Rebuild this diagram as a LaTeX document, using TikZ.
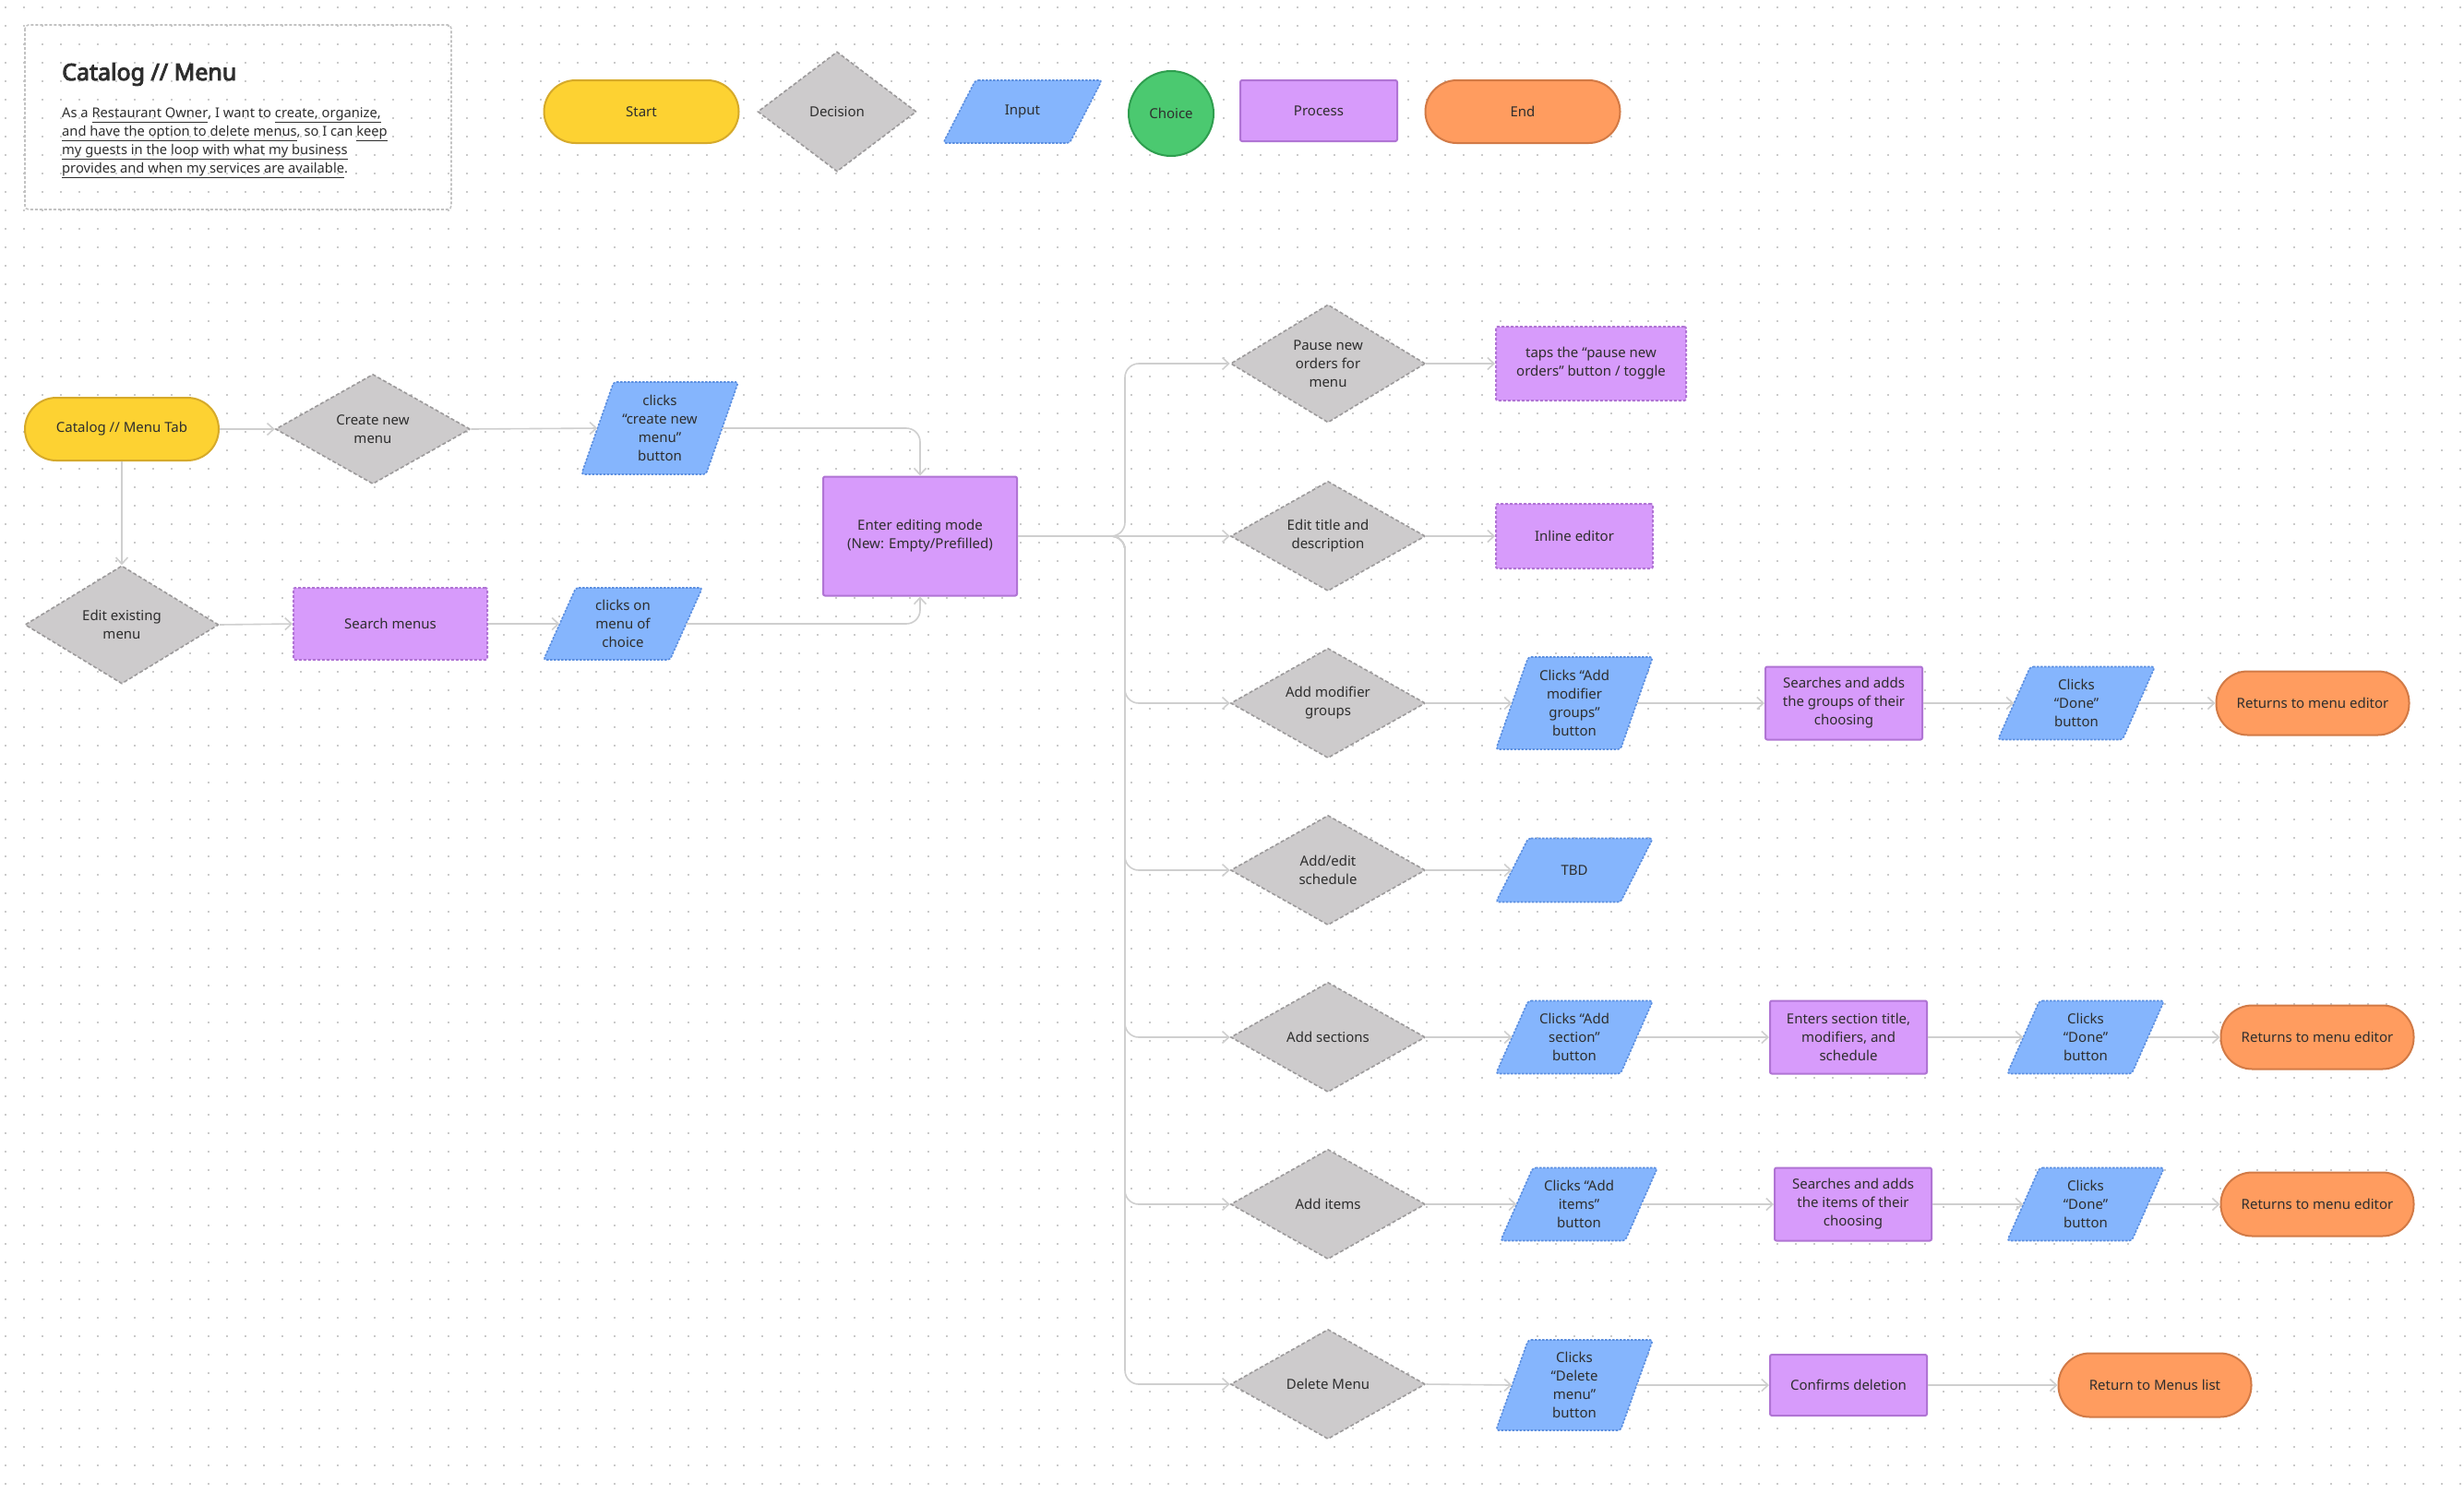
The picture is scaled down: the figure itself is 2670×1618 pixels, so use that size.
\documentclass[tikz,border=0pt]{standalone}
\usepackage{fontspec}
\setmainfont{Noto Sans}
\newfontfamily\titlefont{Noto Sans}[FakeBold=3.6]
\usetikzlibrary{arrows.meta,shapes.geometric}
\definecolor{ink}{HTML}{2E2E2E}
\definecolor{ylwF}{HTML}{FDD232}
\definecolor{ylwB}{HTML}{D6AA2A}
\definecolor{grayF}{HTML}{CDCBCC}
\definecolor{grayB}{HTML}{9C9A9B}
\definecolor{bluF}{HTML}{85B5FD}
\definecolor{bluB}{HTML}{5C8FE0}
\definecolor{purF}{HTML}{D79BFB}
\definecolor{purB}{HTML}{B074D4}
\definecolor{orgF}{HTML}{FF9C5F}
\definecolor{orgB}{HTML}{D27A46}
\definecolor{grnF}{HTML}{4BC970}
\definecolor{grnB}{HTML}{2F9E4F}
\definecolor{connc}{HTML}{CFCFCF}
\definecolor{dotc}{HTML}{CACACA}
\definecolor{framec}{HTML}{C2C2C2}
\newcommand\ul[1]{\underline{\vphantom{g}#1}}
\tikzset{
  base/.style={font=\fontsize{15}{20}\selectfont, text=ink, align=center, inner sep=0pt},
  startsty/.style={base, rectangle, draw=ylwB, fill=ylwF, line width=2pt, rounded corners=34pt, minimum width=210pt, minimum height=68pt},
  endsty/.style={base, rectangle, draw=orgB, fill=orgF, line width=2pt, rounded corners=34pt, minimum width=209pt, minimum height=69pt},
  decision/.style={base, diamond, aspect=1.77, draw=grayB, fill=grayF, line width=1.6pt, dash pattern=on 4pt off 2.5pt, minimum width=211pt, minimum height=119pt},
  procsty/.style={base, rectangle, draw=purB, fill=purF, line width=2pt, rounded corners=2pt, minimum width=170pt, minimum height=78pt},
  procdot/.style={procsty, dash pattern=on 3pt off 2pt},
  choicesty/.style={base, circle, draw=grnB, fill=grnF, line width=2pt, minimum size=92pt},
  inputpath/.style={draw=bluB, fill=bluF, line width=1.6pt, dash pattern=on 2.5pt off 1.5pt, rounded corners=3pt},
  conn/.style={draw=connc, line width=1.6pt, -{Straight Barb[length=7pt,width=13pt]}},
  elbow/.style={conn, rounded corners=15pt},
  para/.style={font=\fontsize{14.7}{20}\selectfont, text=ink, inner sep=0pt, anchor=base west},
}
\newcommand\inputnode[6]{%
  \filldraw[inputpath] ({#2-#4/2+35},{#3-#5/2}) -- ({#2+#4/2},{#3-#5/2}) -- ({#2+#4/2-35},{#3+#5/2}) -- ({#2-#4/2},{#3+#5/2}) -- cycle;
  \node[base, minimum width={#4pt-35pt}, minimum height={#5pt}] (#1) at (#2,#3) {#6};
}
\begin{document}
\begin{tikzpicture}[x=1pt,y=-1pt]
\fill[white] (0,0) rectangle (2670,1618);
\useasboundingbox (0,0) rectangle (2670,1618);
% dot grid
\foreach \r in {0,...,80} {
  \draw[dotc, line width=1.8pt, dash pattern=on 1.8pt off 18.2pt] (5,{8+\r*20}) -- (2670,{8+\r*20});
}
% title card
\draw[framec, line width=1.6pt, dash pattern=on 3pt off 2pt, rounded corners=4pt] (27,27) rectangle (489,227);
\node[inner sep=0pt, anchor=base west, text=ink, font=\fontsize{25}{30}\titlefont] (title) at (67,87) {Catalog // Menu};
\node[para] (l1) at (67,127) {As a \ul{Restaurant Owner}, I want to \ul{create, organize,}};
\node[para] (l2) at (67,147) {\ul{and have the option to delete menus}, so I can \ul{keep}};
\node[para] (l3) at (67,167) {\ul{my guests in the loop with what my business}};
\node[para] (l4) at (67,187) {\ul{provides and when my services are available}.};
% legend
\node[startsty, minimum width=211pt] (lgstart) at (695,121) {Start};
\node[decision, minimum width=172pt, minimum height=130pt, aspect=1.3] (lgdec) at (907,121) {Decision};
\inputnode{lginput}{1108}{121}{172}{68}{Input}
\node[choicesty] (lgchoice) at (1269,123) {Choice};
\node[procsty, minimum height=66pt] (lgproc) at (1429,120) {Process};
\node[endsty, minimum width=211pt, minimum height=68pt] (lgend) at (1650,121) {End};
% left part
\node[startsty] (tab) at (132,465) {Catalog // Menu Tab};
\node[decision] (create) at (404,465) {Create new\\menu};
\inputnode{cc}{715}{464}{170}{100}{clicks\\“create new\\menu”\\button}
\node[decision, minimum width=210pt, minimum height=128pt] (edit) at (132,677) {Edit existing\\menu};
\node[procdot, minimum width=210pt] (search) at (423,676) {Search menus};
\inputnode{cm}{675}{676}{172}{78}{clicks on\\menu of\\choice}
\node[procsty, minimum width=210pt, minimum height=129pt] (enter) at (997,581) {Enter editing mode\\(New: Empty/Prefilled)};
% decisions column
\node[decision, minimum height=128pt] (d1) at (1439,394) {Pause new\\orders for\\menu};
\node[decision] (d2) at (1439,581) {Edit title and\\description};
\node[decision] (d3) at (1439,762) {Add modifier\\groups};
\node[decision] (d4) at (1439,943) {Add/edit\\schedule};
\node[decision] (d5) at (1439,1124) {Add sections};
\node[decision] (d6) at (1439,1305) {Add items};
\node[decision] (d7) at (1439,1500) {Delete Menu};
% column 3
\node[procdot, minimum width=206pt, minimum height=80pt] (p1) at (1724,394) {taps the “pause new\\orders” button / toggle};
\node[procdot, minimum height=70pt] (p2) at (1706,581) {Inline editor};
\inputnode{i3}{1706}{762}{170}{100}{Clicks “Add\\modifier\\groups”\\button}
\inputnode{i4}{1706}{943}{170}{69}{TBD}
\inputnode{i5}{1706}{1124}{170}{79}{Clicks “Add\\section”\\button}
\inputnode{i6}{1711}{1305}{170}{79}{Clicks “Add\\items”\\button}
\inputnode{i7}{1706}{1501}{170}{98}{Clicks\\“Delete\\menu”\\button}
% column 4
\node[procsty, minimum height=79pt] (s3) at (1998,762) {Searches and adds\\the groups of their\\choosing};
\node[procsty, minimum height=79pt] (s5) at (2003,1124) {Enters section title,\\modifiers, and\\schedule};
\node[procsty, minimum height=79pt] (s6) at (2008,1305) {Searches and adds\\the items of their\\choosing};
\node[procsty, minimum height=66pt] (s7) at (2003,1501) {Confirms deletion};
% column 5
\inputnode{n3}{2250}{762}{170}{79}{Clicks\\“Done”\\button}
\inputnode{n5}{2260}{1124}{170}{79}{Clicks\\“Done”\\button}
\inputnode{n6}{2260}{1305}{170}{79}{Clicks\\“Done”\\button}
% column 6
\node[endsty] (e3) at (2506,762) {Returns to menu editor};
\node[endsty] (e5) at (2511,1124) {Returns to menu editor};
\node[endsty] (e6) at (2511,1305) {Returns to menu editor};
\node[endsty] (e7) at (2335,1501) {Return to Menus list};
% connectors
\draw[conn] (tab.east) -- (create.west);
\draw[conn] (tab.south) -- (edit.north);
\draw[conn] (create.east) -- (cc.west);
\draw[elbow] (cc.east) -- (enter.north |- cc.east) -- (enter.north);
\draw[conn] (edit.east) -- (search.west);
\draw[conn] (search.east) -- (cm.west);
\draw[elbow] (cm.east) -- (enter.south |- cm.east) -- (enter.south);
\coordinate (trunk) at (1219,581);
\draw[conn] (enter.east) -- (d2.west);
\foreach \d in {d1,d3,d4,d5,d6,d7} {
  \draw[elbow] (enter.east) -- (trunk) -- (trunk |- \d.west) -- (\d.west);
}
\draw[conn] (d1.east) -- (p1.west);
\draw[conn] (d2.east) -- (p2.west);
\draw[conn] (d3.east) -- (i3.west);
\draw[conn] (i3.east) -- (s3.west);
\draw[conn] (s3.east) -- (n3.west);
\draw[conn] (n3.east) -- (e3.west);
\draw[conn] (d4.east) -- (i4.west);
\draw[conn] (d5.east) -- (i5.west);
\draw[conn] (i5.east) -- (s5.west);
\draw[conn] (s5.east) -- (n5.west);
\draw[conn] (n5.east) -- (e5.west);
\draw[conn] (d6.east) -- (i6.west);
\draw[conn] (i6.east) -- (s6.west);
\draw[conn] (s6.east) -- (n6.west);
\draw[conn] (n6.east) -- (e6.west);
\draw[conn] (d7.east) -- (i7.west);
\draw[conn] (i7.east) -- (s7.west);
\draw[conn] (s7.east) -- (e7.west);
\end{tikzpicture}
\end{document}
